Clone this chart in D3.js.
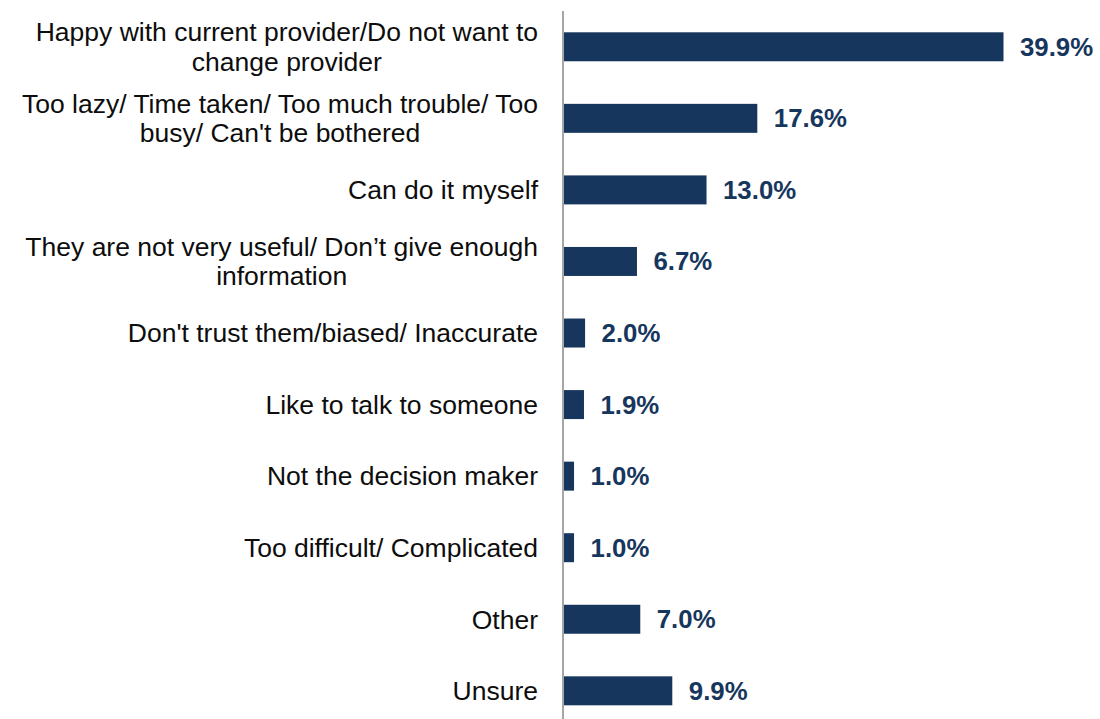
<!DOCTYPE html>
<html>
<head>
<meta charset="utf-8">
<script src="https://cdn.jsdelivr.net/npm/d3@7/dist/d3.min.js"></script>
<style>
  html, body { margin: 0; padding: 0; background: #ffffff; }
  svg { display: block; }
</style>
</head>
<body>
<svg id="chart" width="1100" height="719"></svg>
<script>
// Reasons given, one entry per bar (lines split where the label wraps)
const categories = [
  ["Happy with current provider/Do not want to", "change provider"],
  ["Too lazy/ Time taken/ Too much trouble/ Too", "busy/ Can't be bothered"],
  ["Can do it myself"],
  ["They are not very useful/ Don\u2019t give enough", "information"],
  ["Don't trust them/biased/ Inaccurate"],
  ["Like to talk to someone"],
  ["Not the decision maker"],
  ["Too difficult/ Complicated"],
  ["Other"],
  ["Unsure"]
];
const values = [39.9, 17.6, 13.0, 6.7, 2.0, 1.9, 1.0, 1.0, 7.0, 9.9];
const valueLabels = ["39.9%", "17.6%", "13.0%", "6.7%", "2.0%", "1.9%", "1.0%", "1.0%", "7.0%", "9.9%"];

const svg = d3.select("#chart");
const barColor = "#17365d";
const font = "'Liberation Sans', Arial, sans-serif";

const ids = d3.range(values.length);
const x = d3.scaleLinear().domain([0, 39.9]).range([563, 1003.5]);
const y = d3.scaleBand().domain(ids).range([11, 726.6])
  .paddingInner(0.595).paddingOuter(0.2975);

// bars
svg.append("g").selectAll("rect").data(ids).join("rect")
  .attr("x", x(0))
  .attr("y", i => y(i))
  .attr("width", i => x(values[i]) - x(0))
  .attr("height", y.bandwidth())
  .attr("fill", barColor);

// value labels
svg.append("g").selectAll("text").data(ids).join("text")
  .attr("x", i => x(values[i]) + 16.5)
  .attr("y", i => y(i) + y.bandwidth() / 2)
  .attr("dy", "0.35em")
  .attr("font-family", font)
  .attr("font-size", 25.8)
  .attr("font-weight", "bold")
  .attr("fill", barColor)
  .text(i => valueLabels[i]);

// category axis on the left, labels drawn by hand for wrapping
const axis = d3.axisLeft(y).tickSize(0).tickFormat("");
const ax = svg.append("g").attr("transform", `translate(${x(0)},0)`).call(axis);
ax.select(".domain").remove();
svg.append("line")
  .attr("x1", x(0)).attr("x2", x(0))
  .attr("y1", 11).attr("y2", 719)
  .attr("stroke", "#a6a6a6").attr("stroke-width", 2);

// each label block is right-aligned, with its lines centred within the block
const labelRight = 538;
const lineH = 29.5;
const labels = svg.append("g").selectAll("text").data(ids).join("text")
  .attr("text-anchor", "middle")
  .attr("font-family", font)
  .attr("font-size", 26.5)
  .attr("fill", "#0d0d0d");
labels.each(function(i) {
  const lines = categories[i];
  const cy = y(i) + y.bandwidth() / 2;
  const t = d3.select(this);
  const spans = lines.map((ln, k) => t.append("tspan")
    .attr("y", cy + (k - (lines.length - 1) / 2) * lineH)
    .attr("dy", "0.35em")
    .text(ln));
  const w = d3.max(spans, s => s.node().getComputedTextLength());
  spans.forEach(s => s.attr("x", labelRight - w / 2));
});
</script>
</body>
</html>
